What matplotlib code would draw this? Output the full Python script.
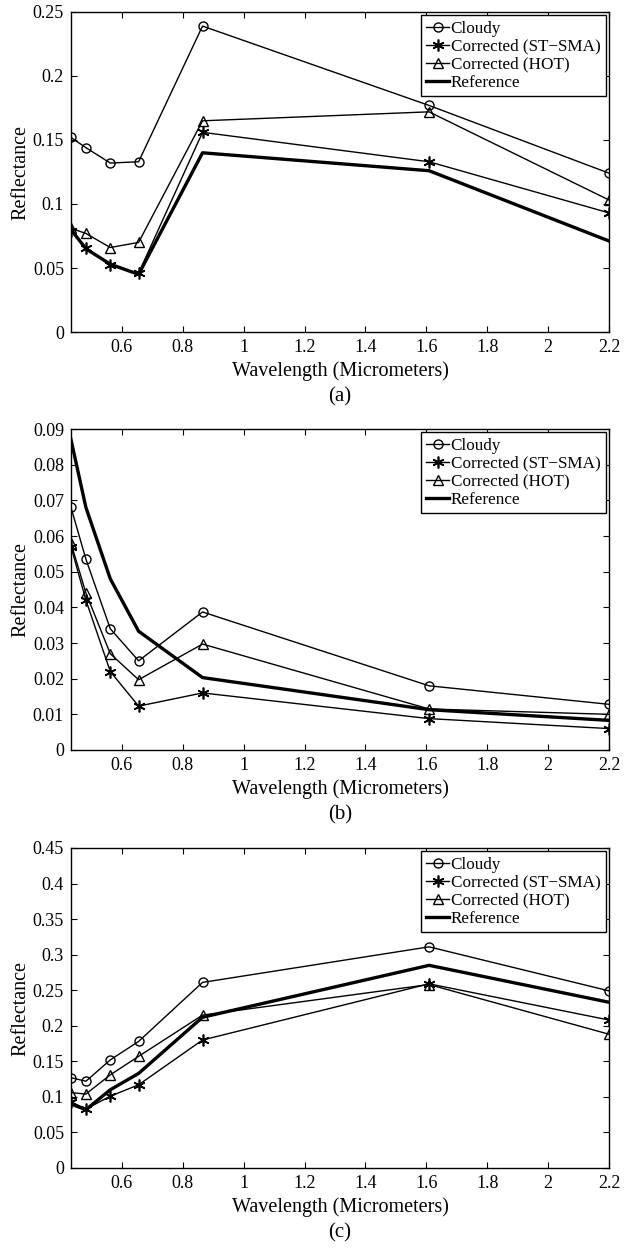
import matplotlib
matplotlib.use("Agg")
import matplotlib.pyplot as plt

plt.rcParams['font.family'] = ['Liberation Serif', 'DejaVu Serif']

wavelength = [0.433, 0.482, 0.562, 0.655, 0.865, 1.609, 2.201]
series_names = ["Cloudy", "Corrected (ST\u2212SMA)", "Corrected (HOT)", "Reference"]

a_cloudy = [0.152, 0.144, 0.132, 0.133, 0.239, 0.177, 0.124]
a_stsma = [0.079, 0.066, 0.052, 0.046, 0.156, 0.133, 0.093]
a_hot = [0.081, 0.077, 0.066, 0.070, 0.165, 0.172, 0.103]
a_ref = [0.080, 0.065, 0.053, 0.045, 0.140, 0.126, 0.071]

b_cloudy = [0.068, 0.0535, 0.034, 0.025, 0.0387, 0.018, 0.0128]
b_stsma = [0.057, 0.042, 0.022, 0.0123, 0.016, 0.0088, 0.006]
b_hot = [0.058, 0.044, 0.027, 0.0197, 0.0297, 0.0115, 0.010]
b_ref = [0.087, 0.068, 0.048, 0.0333, 0.0203, 0.0113, 0.0083]

c_cloudy = [0.127, 0.122, 0.152, 0.178, 0.261, 0.311, 0.249]
c_stsma = [0.093, 0.083, 0.101, 0.117, 0.180, 0.259, 0.208]
c_hot = [0.106, 0.104, 0.131, 0.157, 0.215, 0.258, 0.188]
c_ref = [0.090, 0.082, 0.110, 0.133, 0.212, 0.285, 0.233]

panels = [
    ("(a)", [a_cloudy, a_stsma, a_hot, a_ref], 0.25, [0, 0.05, 0.1, 0.15, 0.2, 0.25]),
    ("(b)", [b_cloudy, b_stsma, b_hot, b_ref], 0.09, [0, 0.01, 0.02, 0.03, 0.04, 0.05, 0.06, 0.07, 0.08, 0.09]),
    ("(c)", [c_cloudy, c_stsma, c_hot, c_ref], 0.45, [0, 0.05, 0.1, 0.15, 0.2, 0.25, 0.3, 0.35, 0.4, 0.45]),
]
xticks = [0.6, 0.8, 1, 1.2, 1.4, 1.6, 1.8, 2, 2.2]

W, H = 631, 1251
fig = plt.figure(figsize=(W / 100, H / 100), dpi=100)

# axes pixel boxes: (left, top, right, bottom)
boxes = [(71, 12, 609, 332), (71, 429, 609, 750), (71, 848, 609, 1168)]

def fmt(v):
    return "%g" % v

asterisk = (6, 2, 0)
styles = [
    dict(marker='o', markersize=6.5, markerfacecolor='none', color='black', lw=1.0, mew=1.0),
    dict(marker=asterisk, markersize=8.5, color='black', lw=1.0, mew=1.2),
    dict(marker='^', markersize=6.5, markerfacecolor='none', color='black', lw=1.0, mew=1.0),
    dict(marker=None, color='black', lw=2.4),
]

for (cap, data, ymax, yticks), (l, t, r, b) in zip(panels, boxes):
    ax = fig.add_axes([l / W, 1 - b / H, (r - l) / W, (b - t) / H])
    for name, vals, st in zip(series_names, data, styles):
        ax.plot(wavelength, vals, label=name, **st)
    ax.set_xlim(wavelength[0], 2.2)
    ax.set_ylim(0, ymax)
    ax.set_xticks(xticks)
    ax.set_xticklabels([fmt(v) for v in xticks])
    ax.set_yticks(yticks)
    ax.set_yticklabels([fmt(v) for v in yticks])
    ax.tick_params(direction='in', top=True, right=True, labelsize=13, length=4, width=0.8, pad=5)
    for s in ax.spines.values():
        s.set_linewidth(1.0)
    ax.set_xlabel("Wavelength (Micrometers)", fontsize=14.5, labelpad=4)
    ax.set_ylabel("Reflectance", fontsize=14.5)
    ax.yaxis.set_label_coords((30 - l) / (r - l), 0.5)
    leg = ax.legend(loc='upper right', fontsize=12.3, handlelength=1.3, handletextpad=0.12,
                    borderpad=0.3, labelspacing=0.12, borderaxespad=0.2,
                    fancybox=False, framealpha=1, edgecolor='black')
    leg.get_frame().set_linewidth(1.0)
    fig.text(340 / W, 1 - (b + 65) / H, cap, ha='center', va='center', fontsize=15)

fig.savefig("out.png", dpi=100)
